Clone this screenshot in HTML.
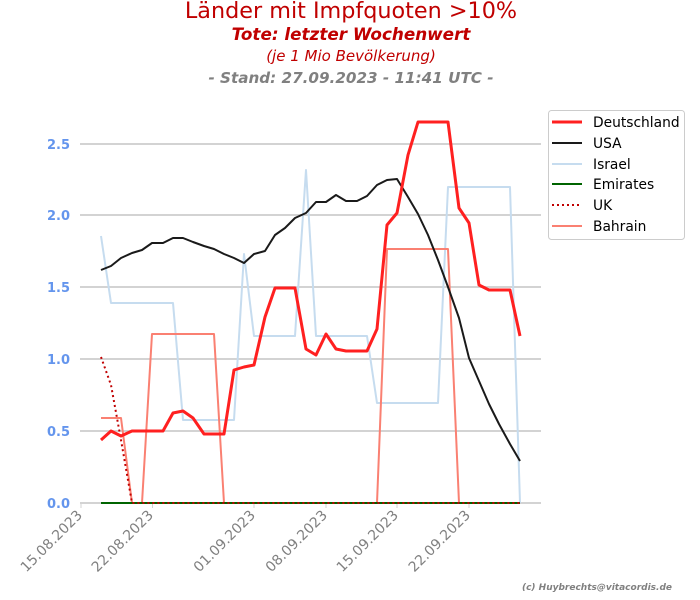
<!DOCTYPE html>
<html><head><meta charset="utf-8"><style>body{margin:0;background:#fff}svg{display:block}</style></head><body>
<svg width="700" height="600" xmlns="http://www.w3.org/2000/svg" font-family="DejaVu Sans, sans-serif">
<text x="351" y="18" text-anchor="middle" font-size="22.3" fill="#c00000">Länder mit Impfquoten &gt;10%</text>
<text x="351" y="40" text-anchor="middle" font-size="16.8" font-weight="bold" font-style="italic" fill="#c00000">Tote: letzter Wochenwert</text>
<text x="351" y="61" text-anchor="middle" font-size="15" font-style="italic" fill="#c00000">(je 1 Mio Bevölkerung)</text>
<text x="351" y="83" text-anchor="middle" font-size="15.2" font-weight="bold" font-style="italic" fill="#808080">- Stand: 27.09.2023 - 11:41 UTC -</text>
<g stroke="#d3d3d3" stroke-width="2">
<line x1="80" x2="541" y1="144" y2="144"/><line x1="80" x2="541" y1="215" y2="215"/><line x1="80" x2="541" y1="287" y2="287"/><line x1="80" x2="541" y1="359" y2="359"/><line x1="80" x2="541" y1="431" y2="431"/><line x1="80" x2="541" y1="503" y2="503"/>
</g>
<g stroke="#d3d3d3" stroke-width="1">
<line x1="81" x2="81" y1="503" y2="508"/><line x1="152.5" x2="152.5" y1="503" y2="508"/><line x1="254" x2="254" y1="503" y2="508"/><line x1="326" x2="326" y1="503" y2="508"/><line x1="397" x2="397" y1="503" y2="508"/><line x1="469" x2="469" y1="503" y2="508"/>
</g>
<g font-size="13" font-weight="bold" fill="#6495ed" text-anchor="end">
<text x="70" y="149">2.5</text><text x="70" y="220">2.0</text><text x="70" y="292">1.5</text><text x="70" y="364">1.0</text><text x="70" y="436">0.5</text><text x="70" y="508">0.0</text>
</g>
<g font-size="14" fill="#808080" text-anchor="end">
<text transform="translate(83,516) rotate(-45)">15.08.2023</text>
<text transform="translate(154,516) rotate(-45)">22.08.2023</text>
<text transform="translate(256,516) rotate(-45)">01.09.2023</text>
<text transform="translate(328,516) rotate(-45)">08.09.2023</text>
<text transform="translate(399,516) rotate(-45)">15.09.2023</text>
<text transform="translate(471,516) rotate(-45)">22.09.2023</text>
</g>
<g fill="none" stroke-linejoin="round">
<polyline stroke="#c6dcef" stroke-width="2" points="101,236 111,303 173,303 183,420 234,420 244,254 254,336 295,336 306,170 316,336 367,336 377,403 438,403 448,187 510,187 520,503"/>
<polyline stroke="#fa8072" stroke-width="2" points="101,418 121,418 132,503 142,503 152,334 214,334 224,503 377,503 387,249 448,249 459,503 520,503"/>
<polyline stroke="#006400" stroke-width="2" points="101,503 520,503"/>
<polyline stroke="#c00000" stroke-width="2" stroke-dasharray="2,3" points="101,357 111,385 121,440 132,503 520,503"/>
<polyline stroke="#1a1a1a" stroke-width="2" points="101,270 111,266 121,258 132,253 142,250 152,243 163,243 173,238 183,238 193,242 204,246 214,249 224,254 234,258 244,263 254,254 265,251 275,235 285,228 295,218 306,213 316,202 326,202 336,195 346,201 357,201 367,196 377,185 387,180 397,179 408,197 418,214 428,235 438,260 448,287 459,318 469,358 479,381 489,404 499,424 510,444 520,461"/>
<polyline stroke="#ff2020" stroke-width="3" points="101,440 111,431 121,436 132,431 142,431 152,431 163,431 173,413 183,411 193,418 204,434 214,434 224,434 234,370 244,367 254,365 265,317 275,288 285,288 295,288 306,349 316,355 326,334 336,349 346,351 357,351 367,351 377,329 387,225 397,213 408,155 418,122 428,122 438,122 448,122 459,208 469,223 479,285 489,290 499,290 510,290 520,336"/>
</g>
<rect x="548.5" y="110.5" width="136" height="129" rx="3" fill="#fff" stroke="#ccc"/>
<g stroke-width="2">
<line x1="552" x2="582" y1="122" y2="122" stroke="#ff2020" stroke-width="3"/>
<line x1="552" x2="582" y1="143" y2="143" stroke="#1a1a1a"/>
<line x1="552" x2="582" y1="164" y2="164" stroke="#c6dcef"/>
<line x1="552" x2="582" y1="184" y2="184" stroke="#006400"/>
<line x1="552" x2="582" y1="205" y2="205" stroke="#c00000" stroke-dasharray="2,3"/>
<line x1="552" x2="582" y1="226" y2="226" stroke="#fa8072"/>
</g>
<g font-size="13.8" fill="#000">
<text x="593" y="127">Deutschland</text><text x="593" y="148">USA</text><text x="593" y="169">Israel</text><text x="593" y="189">Emirates</text><text x="593" y="210">UK</text><text x="593" y="231">Bahrain</text>
</g>
<text x="672" y="590" text-anchor="end" font-size="9" font-weight="bold" font-style="italic" fill="#808080">(c) Huybrechts@vitacordis.de</text>
</svg>
</body></html>
